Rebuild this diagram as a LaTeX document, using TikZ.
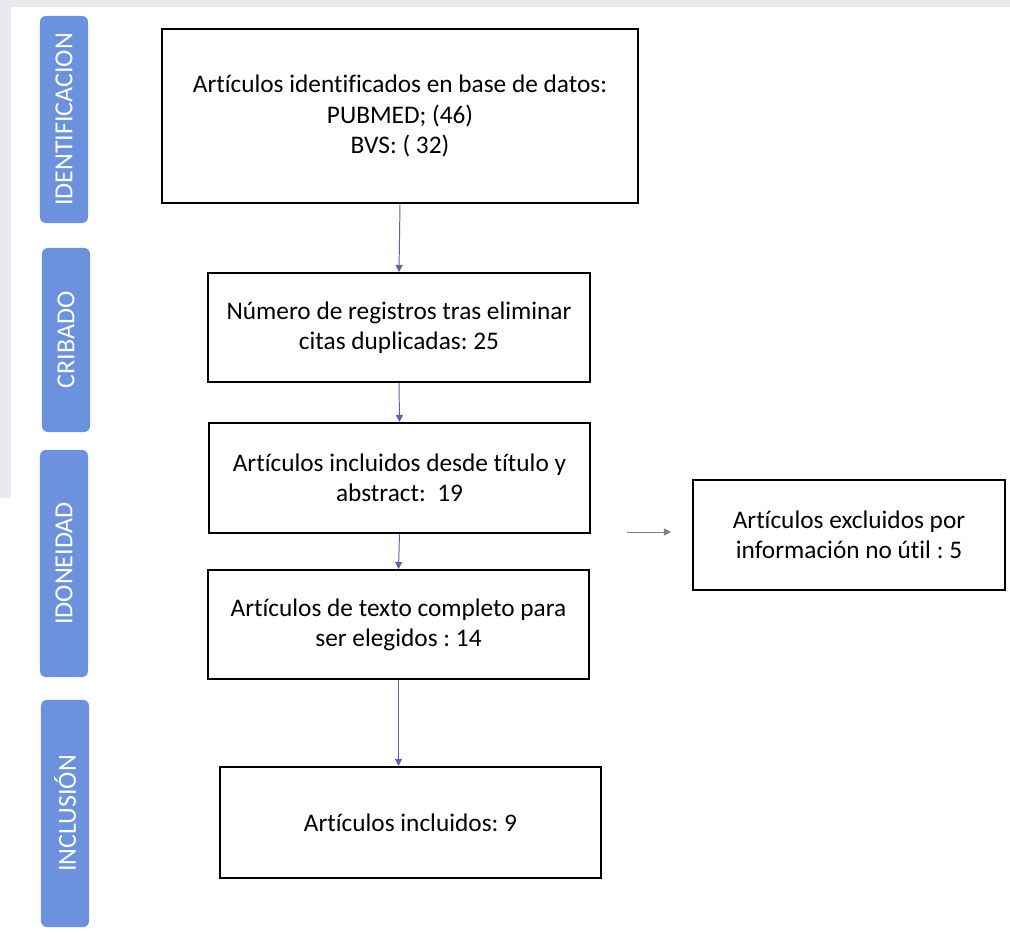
\documentclass[tikz,border=0pt]{standalone}
\usepackage{fontspec}
\setmainfont{Carlito}[Ligatures=NoCommon]
\usepackage{tikz}
\usetikzlibrary{arrows.meta, positioning, calc}
\definecolor{azulfase}{RGB}{108,146,222}
\definecolor{flecha}{RGB}{98,96,176}
\definecolor{grisfondo}{RGB}{234,234,238}
\frenchspacing

\begin{document}
\begin{tikzpicture}[x=0.025cm, y=-0.025cm,
    caja/.style={draw, line width=1.4pt, align=center, inner sep=0pt, font=\fontsize{18}{21.5}\selectfont},
    fase/.style={fill=azulfase, rounded corners=0.15cm, minimum height=1.2cm, text=white, rotate=90, font=\fontsize{18.5}{20}\selectfont},
    flujo/.style={-{Triangle[width=5pt,length=5pt]}, draw=flecha, line width=0.7pt}]
    % Fondo
    \fill[white] (0,0) rectangle (1010,932);
    \fill[grisfondo] (0,0) rectangle (1010,7);
    \fill[grisfondo] (0,0) rectangle (11,498);
    \useasboundingbox (0,0) rectangle (1010,932);

    % Fases
    \node[fase, minimum width=5.175cm] (f1) at (64,119.5) {IDENTIFICACION};
    \node[fase, minimum width=4.6cm] (f2) at (66,340) {CRIBADO};
    \node[fase, minimum width=5.675cm] (f3) at (64,563.5) {IDONEIDAD};
    \node[fase, minimum width=5.675cm] (f4) at (65,813.5) {INCLUSIÓN};

    % Cajas principales
    \node[caja, minimum width=11.9cm, minimum height=4.35cm] (ident) at (400,116) {Artículos identificados en base de datos:\\ PUBMED; (46)\\ BVS: ( 32)};
    \node[caja, minimum width=9.55cm, minimum height=2.725cm] (registros) at (399,327.5) {Número de registros tras eliminar\\ citas duplicadas: 25};
    \node[caja, minimum width=9.525cm, minimum height=2.75cm] (titulo) at (399.5,478) {Artículos incluidos desde título y\\ abstract:\ \ 19};
    \node[caja, minimum width=9.525cm, minimum height=2.725cm] (completo) at (398.5,624.5) {Artículos de texto completo para\\ ser elegidos : 14};
    \node[caja, minimum width=9.525cm, minimum height=2.775cm] (incluidos) at (410.5,822.5) {Artículos incluidos: 9};
    \node[caja, minimum width=7.8cm, minimum height=2.75cm] (excluidos) at (849,535) {Artículos excluidos por\\ información no útil : 5};

    % Flechas
    \draw[flujo] (ident.south) -- (registros.north);
    \draw[flujo] (registros.south) -- (titulo.north);
    \draw[flujo] (titulo.south) -- (completo.north);
    \draw[flujo] (completo.south) -- (completo.south |- incluidos.north);
    \coordinate (e0) at (627,532);
    \draw[flujo, draw=gray, shorten >=0.525cm] (e0) -- (e0 -| excluidos.west);
\end{tikzpicture}
\end{document}
